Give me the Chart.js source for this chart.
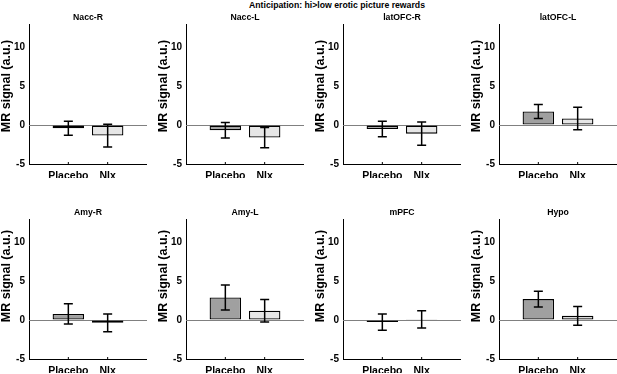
<!DOCTYPE html>
<html>
<head>
<meta charset="utf-8">
<script src="https://cdn.jsdelivr.net/npm/chart.js@4/dist/chart.umd.min.js"></script>
<style>
  body { margin: 0; background: #fff; width: 617px; height: 374px; position: relative; overflow: hidden; font-family: "Liberation Sans", Arial, sans-serif; }
  canvas { position: absolute; }
  #suptitle { position: absolute; top: 0; left: 187px; width: 300px; text-align: center; font-weight: bold; font-size: 8.7px; line-height: 10px; }
</style>
</head>
<body>
<div id="suptitle">Anticipation: hi&gt;low erotic picture rewards</div>
<script>
// regions, one panel each
const regions = ['Nacc-R', 'Nacc-L', 'latOFC-R', 'latOFC-L', 'Amy-R', 'Amy-L', 'mPFC', 'Hypo'];
const conditions = ['Placebo', 'Nlx'];
const placeboMean = [-0.4, -0.65, -0.5, 1.75, 0.8, 2.9, -0.25, 2.7];
const placeboErr = [0.9, 1.0, 1.0, 0.9, 1.3, 1.6, 1.05, 1.0];
const nlxMean = [-1.35, -1.6, -1.1, 0.85, -0.35, 1.2, 0.1, 0.55];
const nlxErr = [1.45, 1.3, 1.5, 1.45, 1.15, 1.45, 1.1, 1.2];
const yTicks = [-5, 0, 5, 10];

Chart.defaults.font.family = '"Liberation Sans", Arial, sans-serif';

const axisLeft = [29, 186, 343, 499];

// zero line, error bars, titles
const decorations = {
  id: 'decorations',
  beforeDatasetsDraw(chart) {
    const {ctx, chartArea, scales: {y}} = chart;
    const y0 = Math.round(y.getPixelForValue(0)) + 0.5;
    ctx.save();
    ctx.strokeStyle = '#808080';
    ctx.lineWidth = 1;
    ctx.beginPath();
    ctx.moveTo(chartArea.left, y0);
    ctx.lineTo(chartArea.right, y0);
    ctx.stroke();
    ctx.restore();
  },
  afterDatasetsDraw(chart, args, opts) {
    const {ctx, chartArea, scales: {x, y}} = chart;
    ctx.save();
    ctx.strokeStyle = '#000';
    ctx.lineWidth = 1.5;
    opts.means.forEach((m, j) => {
      const px = x.getPixelForValue(j + 1);
      const top = y.getPixelForValue(m + opts.errs[j]);
      const bot = y.getPixelForValue(m - opts.errs[j]);
      ctx.beginPath();
      ctx.moveTo(px, top); ctx.lineTo(px, bot);
      ctx.moveTo(px - 4.5, top); ctx.lineTo(px + 4.5, top);
      ctx.moveTo(px - 4.5, bot); ctx.lineTo(px + 4.5, bot);
      ctx.stroke();
      // small tick on the x axis
      ctx.lineWidth = 1;
      ctx.beginPath();
      ctx.moveTo(px, chartArea.bottom); ctx.lineTo(px, chartArea.bottom - 2);
      ctx.stroke();
      ctx.lineWidth = 1.5;
    });
    ctx.restore();
  },
  afterDraw(chart, args, opts) {
    const {ctx, chartArea} = chart;
    ctx.save();
    ctx.fillStyle = '#000';
    ctx.textAlign = 'center';
    ctx.textBaseline = 'middle';
    ctx.font = 'bold 8.7px "Liberation Sans", Arial, sans-serif';
    ctx.fillText(opts.title, (chartArea.left + chartArea.right) / 2, chartArea.top - 6);
    ctx.translate(chartArea.left - 22, chartArea.top + opts.labelOffset);
    ctx.rotate(-Math.PI / 2);
    ctx.font = 'bold 12.5px "Liberation Sans", Arial, sans-serif';
    ctx.fillText('MR signal (a.u.)', 0, 0);
    ctx.restore();
  }
};

regions.forEach((name, i) => {
  const col = i % 4;
  const row = Math.floor(i / 4);
  const canvas = document.createElement('canvas');
  canvas.width = 147;
  canvas.height = 190;
  canvas.style.left = (axisLeft[col] - 29) + 'px';
  canvas.style.top = (row ? 195 : 0) + 'px';
  canvas.style.width = '147px';
  canvas.style.height = '190px';
  document.body.appendChild(canvas);

  const means = [placeboMean[i], nlxMean[i]];
  const errs = [placeboErr[i], nlxErr[i]];

  new Chart(canvas, {
    type: 'bar',
    data: {
      datasets: [{
        data: means.map((v, j) => ({x: j + 1, y: v})),
        backgroundColor: ['#a0a0a0', '#e6e6e6'],
        borderColor: '#000',
        borderWidth: 1.3,
        borderSkipped: false,
        barPercentage: 0.8,
        categoryPercentage: 1
      }]
    },
    options: {
      responsive: false,
      animation: false,
      layout: {padding: {top: 24, right: 0, bottom: 12, left: 0}},
      plugins: {
        legend: {display: false},
        tooltip: {enabled: false},
        decorations: {title: name, means: means, errs: errs, labelOffset: row ? 57 : 62}
      },
      scales: {
        x: {
          type: 'linear',
          min: 0,
          max: 3,
          offset: false,
          afterBuildTicks: s => { s.ticks = [{value: 1}, {value: 2}]; },
          afterFit: s => { s.height = 14; },
          grid: {drawOnChartArea: false, drawTicks: false},
          border: {color: '#000', width: 1},
          ticks: {
            padding: 6,
            color: '#000',
            maxRotation: 0,
            autoSkip: false,
            font: {size: 10.5, weight: 'bold'},
            callback: v => conditions[v - 1]
          }
        },
        y: {
          min: -5,
          max: 13,
          afterBuildTicks: s => { s.ticks = yTicks.map(v => ({value: v})); },
          afterFit: s => { s.width = 29; },
          grid: {drawOnChartArea: false, drawTicks: false},
          border: {color: '#000', width: 1},
          ticks: {
            padding: 4,
            color: '#000',
            font: {size: 10, weight: 'bold'}
          }
        }
      }
    },
    plugins: [decorations]
  });
});
</script>
</body>
</html>
